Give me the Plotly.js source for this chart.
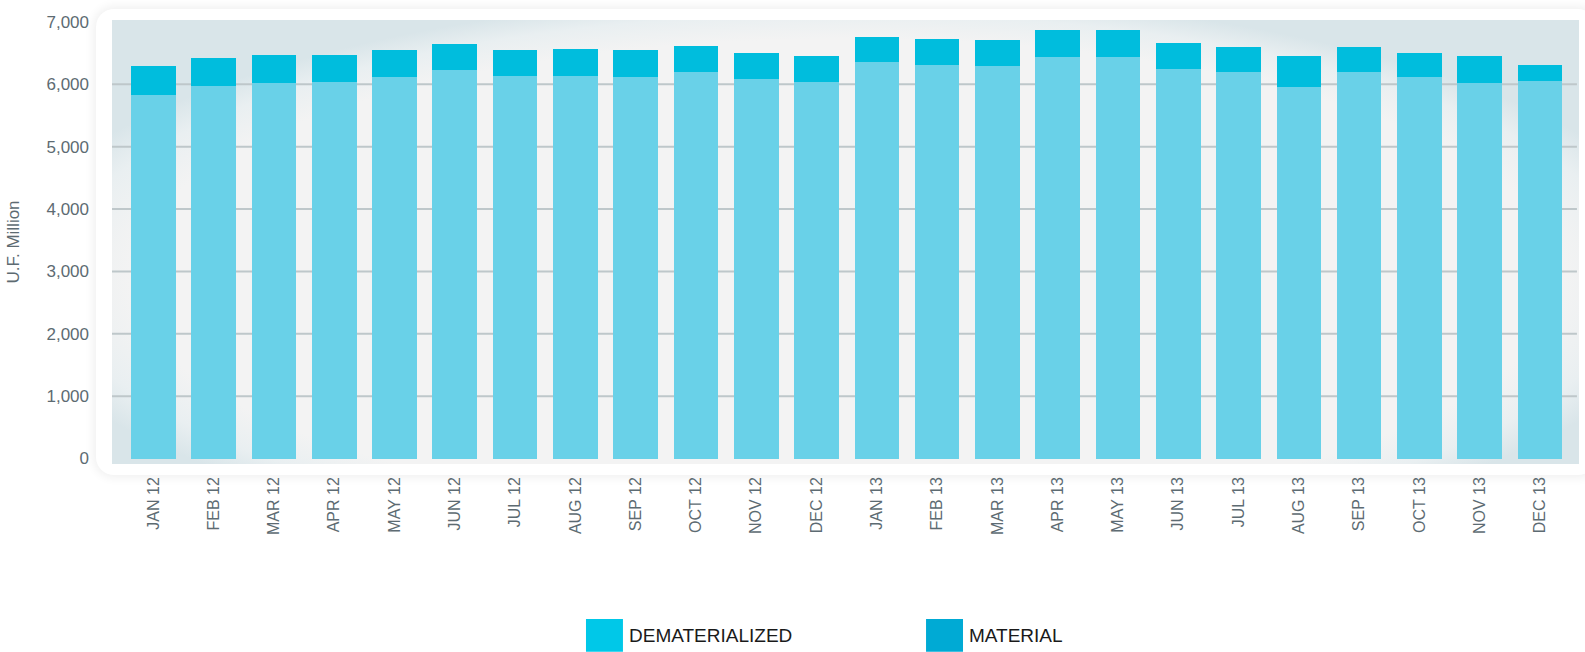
<!DOCTYPE html>
<html>
<head>
<meta charset="utf-8">
<script src="https://cdn.plot.ly/plotly-3.0.1.min.js"></script>
<style>
  html, body { margin: 0; padding: 0; background: #ffffff; }
  #wrap { position: relative; width: 1585px; height: 652px; overflow: hidden; }
  #frame { position: absolute; left: 96px; top: 9px; width: 1500px; height: 466px;
           background: #ffffff; border-radius: 18px;
           box-shadow: 0 0 10px 3px rgba(0,0,0,0.06); }
  #inner { position: absolute; left: 112px; top: 20px; width: 1467px; height: 444px;
           background: radial-gradient(ellipse 58% 64% at 50% 58%, #f3f3f3 84%, #e9eff1 93%, #d9e5e9 100%); }
  #chart { position: absolute; left: 0; top: 0; width: 1585px; height: 652px; }
</style>
</head>
<body>
<div id="wrap">
  <div id="frame"></div>
  <div id="inner"></div>
  <div id="chart"></div>
</div>
<script>
const months = ["JAN 12","FEB 12","MAR 12","APR 12","MAY 12","JUN 12","JUL 12","AUG 12","SEP 12","OCT 12","NOV 12","DEC 12",
                "JAN 13","FEB 13","MAR 13","APR 13","MAY 13","JUN 13","JUL 13","AUG 13","SEP 13","OCT 13","NOV 13","DEC 13"];
const dematerialized = [5830,5975,6020,6035,6120,6230,6135,6135,6120,6200,6085,6035,
                        6360,6310,6295,6440,6440,6245,6200,5955,6200,6120,6020,6055];
const material = [465,450,450,435,435,420,420,435,435,420,420,420,
                  405,420,420,435,435,420,400,500,400,385,435,255];
const yTicks = [0,1000,2000,3000,4000,5000,6000,7000];
const yTickText = ["0","1,000","2,000","3,000","4,000","5,000","6,000","7,000"];
const gridValues = [1000,2000,3000,4000,5000,6000];
const legendNames = ["DEMATERIALIZED","MATERIAL"];
const legendColors = ["#00c8e8","#00aad4"];

const font = "'Liberation Sans', Arial, sans-serif";
const gray = "#5d6b72";

const traces = [
  { type: "bar", x: months, y: dematerialized, name: legendNames[0],
    marker: { color: "#69d1e8", line: { width: 0 } }, showlegend: false },
  { type: "bar", x: months, y: material, name: legendNames[1],
    marker: { color: "#00bddd", line: { width: 0 } }, showlegend: false }
];

const legX = [[0.3231, 0.3483], [0.5549, 0.5801]];
const shapes = gridValues.map(v => ({
  type: "line", xref: "paper", yref: "y", x0: 0, x1: 0.9986, y0: v, y1: v,
  line: { color: "#bec7ca", width: 2 }, layer: "below"
})).concat(legendNames.map((n, i) => ({
  type: "rect", xref: "paper", yref: "paper",
  x0: legX[i][0], x1: legX[i][1], y0: -0.423, y1: -0.349,
  fillcolor: legendColors[i], line: { width: 0 }
})));
const annotations = legendNames.map((n, i) => ({
  xref: "paper", yref: "paper", x: legX[i][1] + 0.003, y: -0.386,
  xanchor: "left", yanchor: "middle", showarrow: false, text: n,
  font: { family: font, size: 19, color: "#1a1a1a" }
}));

const layout = {
  width: 1585, height: 652,
  margin: { l: 112, r: 6, t: 20, b: 188, pad: 0 },
  paper_bgcolor: "rgba(0,0,0,0)",
  plot_bgcolor: "rgba(0,0,0,0)",
  barmode: "stack",
  bargap: 0.26,
  showlegend: false,
  xaxis: {
    type: "category", range: [-0.686, 23.647],
    showgrid: false, zeroline: false, showline: false,
    tickangle: -90, ticks: "", ticklabelstandoff: 9,
    tickfont: { family: font, size: 16, color: gray }
  },
  yaxis: {
    range: [-88, 7030],
    tickvals: yTicks, ticktext: yTickText,
    showgrid: false, zeroline: false, showline: false, ticks: "",
    ticklabelstandoff: 22,
    tickfont: { family: font, size: 17, color: gray },
    title: { text: "U.F. Million", standoff: 22, font: { family: font, size: 17, color: gray } }
  },
  shapes: shapes,
  annotations: annotations
};

Plotly.newPlot("chart", traces, layout, { displayModeBar: false, staticPlot: true });
</script>
</body>
</html>
